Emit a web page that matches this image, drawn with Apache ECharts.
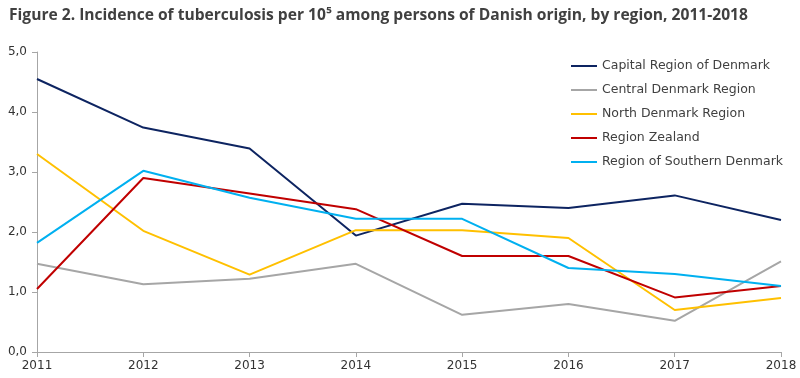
<!DOCTYPE html>
<html><head><meta charset="utf-8">
<script src="https://cdn.jsdelivr.net/npm/echarts@6/dist/echarts.min.js"></script>
<style>html,body{margin:0;padding:0;background:#fff}#c{width:800px;height:378px}</style>
</head><body><div id="c"></div>
<script>
const years = ['2011','2012','2013','2014','2015','2016','2017','2018'];
const seriesNames = ['Capital Region of Denmark','Central Denmark Region','North Denmark Region','Region Zealand','Region of Southern Denmark'];
const capital  = [4.55, 3.74, 3.39, 1.94, 2.47, 2.40, 2.61, 2.20];
const central  = [1.47, 1.13, 1.22, 1.47, 0.62, 0.80, 0.52, 1.51];
const north    = [3.30, 2.02, 1.29, 2.03, 2.03, 1.90, 0.70, 0.90];
const zealand  = [1.05, 2.90, 2.64, 2.38, 1.60, 1.60, 0.91, 1.10];
const southern = [1.82, 3.02, 2.57, 2.22, 2.22, 1.40, 1.30, 1.10];
const colors = ['#0d2461','#a6a6a6','#ffc000','#c00000','#00b0f0'];
const allData = [capital, central, north, zealand, southern];

const chart = echarts.init(document.getElementById('c'));
const font = '"DejaVu Sans", sans-serif';
chart.setOption({
  animation: false,
  title: {
    text: 'Figure 2. Incidence of tuberculosis per 10⁵ among persons of Danish origin, by region, 2011-2018',
    left: 4, top: 3,
    textStyle: {fontFamily: '"Open Sans", sans-serif', fontWeight: 'bold', fontSize: 15.6, color: '#404040'}
  },
  legend: {
    orient: 'vertical', left: 566, top: 54, itemGap: 10, itemWidth: 26, itemHeight: 14,
    icon: 'path://M0,6 L26,6 L26,8 L0,8 Z',
    textStyle: {fontFamily: font, fontSize: 12.5, color: '#404040', lineHeight: 14},
    data: seriesNames
  },
  grid: {left: 37, right: 19, top: 52, bottom: 26},
  xAxis: {
    type: 'category', data: years, boundaryGap: false,
    axisLine: {lineStyle: {color: '#a6a6a6'}},
    axisTick: {show: true, length: 5, lineStyle: {color: '#a6a6a6'}},
    axisLabel: {fontFamily: font, fontSize: 12, color: '#333', margin: 8}
  },
  yAxis: {
    type: 'value', min: 0, max: 5, interval: 1,
    splitLine: {show: false},
    axisLine: {show: true, lineStyle: {color: '#a6a6a6'}},
    axisTick: {show: true, length: 5, lineStyle: {color: '#a6a6a6'}},
    axisLabel: {fontFamily: font, fontSize: 12, color: '#333', margin: 10,
      formatter: v => v.toFixed(1).replace('.', ',')}
  },
  series: seriesNames.map((n, i) => ({
    name: n, type: 'line', data: allData[i], symbol: 'none',
    lineStyle: {width: 2, color: colors[i]}, itemStyle: {color: colors[i]}
  }))
});
</script></body></html>
